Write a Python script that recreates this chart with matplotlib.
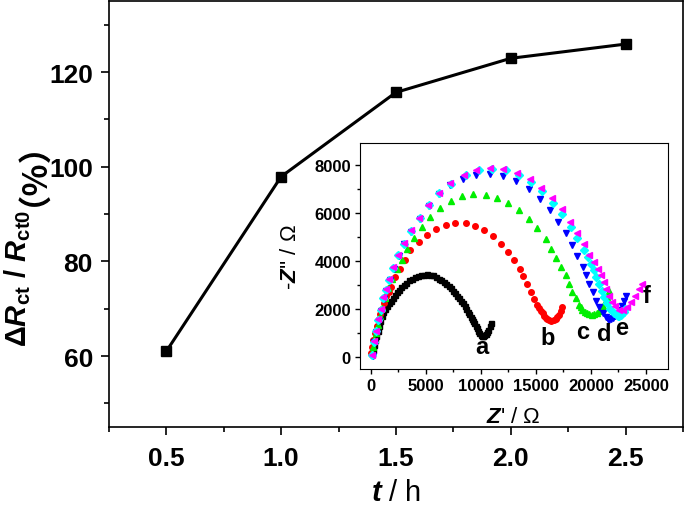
import matplotlib
matplotlib.use('Agg')
import matplotlib.pyplot as plt
from matplotlib.ticker import MultipleLocator

plt.rcParams['font.family'] = ['Liberation Sans', 'Noto Sans CJK SC']
plt.rcParams['font.weight'] = 'bold'
plt.rcParams['mathtext.fontset'] = 'custom'
plt.rcParams['mathtext.rm'] = 'Liberation Sans:bold'
plt.rcParams['mathtext.bf'] = 'Liberation Sans:bold'
plt.rcParams['mathtext.it'] = 'Liberation Sans:italic:bold'
plt.rcParams['mathtext.bfit'] = 'Liberation Sans:italic:bold'

# main curve: relative change of Rct vs time
t_h = [0.5, 1.0, 1.5, 2.0, 2.5]
d_rct = [61.0, 97.9, 115.7, 122.9, 125.9]

# inset: Nyquist plots a-f (Z' , -Z'')
a_x = [60, 150, 260, 380, 480, 605, 720, 848, 970, 1094, 1270, 1459, 1640, 1823, 1990, 2151,
       2350, 2552, 2760, 2972, 3230, 3491, 3760, 4038, 4300, 4558, 4830, 5105, 5380, 5652,
       5910, 6162, 6390, 6618, 6850, 7074, 7280, 7475, 7660, 7840, 8020, 8204, 8360, 8505,
       8660, 8806, 8930, 9052, 9180, 9298, 9400, 9508, 9610, 9717, 9840, 9964, 10090, 10210,
       10320, 10419, 10540, 10665, 10800, 10939]
a_y = [120, 300, 500, 700, 880, 1100, 1300, 1514, 1690, 1861, 2000, 2139, 2245, 2347, 2470, 2597,
       2700, 2806, 2905, 3000, 3090, 3181, 3255, 3319, 3370, 3417, 3428, 3431, 3415, 3389,
       3325, 3250, 3185, 3111, 3030, 2944, 2855, 2764, 2660, 2556, 2450, 2347, 2245, 2139,
       2015, 1889, 1770, 1653, 1585, 1514, 1410, 1306, 1200, 1097, 1000, 917, 875, 861,
       900, 958, 1045, 1139, 1270, 1417]

b_x = [40, 120, 230, 380, 530, 699, 860, 1000, 1200, 1395, 1620, 1850, 2200, 2610, 3127, 3580,
       4340, 5100, 5921, 6802, 7683, 8595, 9446, 10266, 11087, 11786, 12485, 13001, 13518,
       13852, 14217, 14521, 14825, 15129, 15300, 15432, 15600, 15736, 15890, 16040, 16220,
       16404, 16600, 16800, 16950, 17104, 17250, 17408]
b_y = [150, 400, 700, 1000, 1300, 1560, 1800, 2000, 2250, 2528, 2720, 2917, 3330, 3667, 4054, 4429,
       4778, 5083, 5333, 5500, 5583, 5569, 5444, 5264, 5014, 4708, 4361, 4014, 3667,
       3361, 3042, 2722, 2417, 2167, 2040, 1931, 1820, 1722, 1640, 1583, 1525,
       1500, 1520, 1583, 1660, 1750, 1900, 2069]

c_x = [50, 150, 280, 450, 620, 800, 1000, 1250, 1550, 1900, 2370, 2826, 3282, 3883, 4649, 5406,
       6317, 7293, 8320, 9294, 10480, 11482, 12485, 13458, 14369, 15129, 15888, 16344, 16800,
       17256, 17712, 18016, 18320, 18624, 18927, 19080, 19231, 19430, 19626, 19840, 20052,
       20300, 20538, 20720, 20903, 21090, 21268, 21460, 21663]
c_y = [150, 400, 700, 1000, 1350, 1700, 2050, 2450, 2850, 3250, 3639, 4014, 4500, 4951, 5424, 5840,
       6188, 6500, 6695, 6764, 6750, 6611, 6403, 6097, 5750, 5361, 4917, 4500, 4111,
       3736, 3389, 3042, 2722, 2444, 2167, 2060, 1972, 1890, 1833, 1790, 1764,
       1790, 1833, 1910, 2000, 2130, 2278, 2500, 2764]

d_x = [146, 301, 483, 693, 912, 1149, 1395, 1696, 2060, 2516, 3036, 3674, 4430, 5251, 6226, 7229,
       8386, 9571, 10811, 12032, 13218, 14370, 15342, 16254, 17046, 17712, 18320, 18776, 19232,
       19535, 19839, 20146, 20447, 20748, 21058, 21359, 21520, 21660, 21840, 22024, 22220,
       22425, 22600, 22790, 22980, 23182]
d_y = [56, 611, 1028, 1514, 1931, 2417, 2764, 3181, 3667, 4194, 4681, 5208, 5750, 6278, 6764, 7150,
       7389, 7569, 7625, 7528, 7319, 6972, 6583, 6097, 5625, 5139, 4653, 4194, 3736,
       3389, 3042, 2694, 2347, 2069, 1833, 1653, 1590, 1556, 1570, 1611, 1700,
       1833, 1970, 2139, 2320, 2528]

e_x = [120, 280, 460, 670, 890, 1130, 1380, 1680, 2040, 2500, 3020, 3660, 4420, 5240, 6215, 7240,
       8596, 9809, 11030, 12242, 13455, 14585, 15588, 16591, 17411, 18168, 18776, 19380, 19690,
       19990, 20237, 20447, 20693, 20994, 21207, 21449, 21754, 22060, 22250, 22425, 22580,
       22726, 22850, 22972, 23080]
e_y = [80, 640, 1060, 1550, 1970, 2450, 2800, 3220, 3700, 4230, 4710, 5240, 5780, 6310, 6800, 7210,
       7569, 7778, 7833, 7778, 7569, 7278, 6903, 6417, 5931, 5417, 4958, 4430, 4153,
       3875, 3597, 3319, 3042, 2764, 2486, 2236, 2000, 1833, 1770, 1722, 1720,
       1750, 1810, 1889, 2000]

f_x = [100, 260, 440, 650, 870, 1110, 1360, 1660, 2020, 2480, 3000, 3640, 4400, 5220, 6200, 7210,
       8420, 9571, 10811, 12032, 13245, 14458, 15497, 16500, 17347, 18104, 18776, 19380, 19836,
       20292, 20601, 20903, 21149, 21359, 21660, 21906, 22209, 22571, 22936, 23273, 23637,
       24002, 24339, 24640]
f_y = [100, 660, 1080, 1570, 2000, 2480, 2830, 3250, 3730, 4260, 4740, 5270, 5800, 6330, 6820, 7230,
       7560, 7778, 7847, 7833, 7667, 7417, 7042, 6625, 6139, 5611, 5139, 4681, 4222,
       3944, 3667, 3389, 3111, 2833, 2556, 2306, 2111, 1958, 1972, 2069, 2278,
       2556, 2833, 3042]

curve_labels = ['a', 'b', 'c', 'd', 'e', 'f']
label_x = [10050, 16100, 19230, 21200, 22750, 25050]
label_y = [420, 800, 1060, 960, 1240, 2560]

fig = plt.figure(figsize=(6.85, 5.06), dpi=100)
ax = fig.add_axes([0.159, 0.154, 0.838, 0.842])
ax.plot(t_h, d_rct, 'k-s', lw=2.2, ms=6.8)
ax.set_xlim(0.25, 2.75)
ax.set_ylim(45, 135)
ax.xaxis.set_major_locator(MultipleLocator(0.5))
ax.xaxis.set_minor_locator(MultipleLocator(0.25))
ax.yaxis.set_major_locator(MultipleLocator(20))
ax.yaxis.set_minor_locator(MultipleLocator(10))
ax.tick_params(which='major', direction='out', length=5.5, width=1.2, labelsize=19, pad=6)
ax.tick_params(axis='x', which='major', pad=8)
ax.tick_params(which='minor', direction='out', length=3.8, width=1.2)
for s in ax.spines.values():
    s.set_linewidth(1.2)
ax.set_xlabel(r'$\mathbfit{t}$ / h', fontsize=21, labelpad=6)

# y label: math part, then the full-width brackets in a CJK font
ylab = fig.text(0.026, 1 - 347 / 506, r'$\Delta\mathbfit{R}_{\mathbf{ct}}$ / $\mathbfit{R}_{\mathbf{ct0}}$',
                rotation=90, ha='center', va='bottom', fontsize=21)
fig.canvas.draw()
bb = ylab.get_window_extent(fig.canvas.get_renderer())
fig.text(0.024, (bb.y1 + 4) / fig.bbox.height, '（%）', rotation=90, ha='center', va='bottom',
         fontsize=24, family=['Noto Sans CJK SC', 'DejaVu Sans'])

ins = fig.add_axes([0.5255, 0.2688, 0.4496, 0.4466])
ins.plot(a_x, a_y, 's', color='black', ms=3.6, ls='none')
ins.plot(b_x, b_y, 'o', color='red', ms=4.0, ls='none')
ins.plot(c_x, c_y, '^', color='#00ee00', ms=4.4, ls='none')
ins.plot(d_x, d_y, 'v', color='blue', ms=4.4, ls='none')
ins.plot(e_x, e_y, 'D', color='cyan', ms=3.6, ls='none')
ins.plot(f_x, f_y, '<', color='magenta', ms=4.4, ls='none')
for lab, lx, ly in zip(curve_labels, label_x, label_y):
    ins.text(lx, ly, lab, fontsize=17, ha='center', va='center')
ins.set_xlim(-1000, 27000)
ins.set_ylim(-500, 8900)
ins.xaxis.set_major_locator(MultipleLocator(5000))
ins.xaxis.set_minor_locator(MultipleLocator(2500))
ins.yaxis.set_major_locator(MultipleLocator(2000))
ins.yaxis.set_minor_locator(MultipleLocator(1000))
ins.tick_params(which='major', direction='out', length=3.5, width=1, labelsize=12, pad=3)
ins.tick_params(which='minor', direction='out', length=2, width=1)
ins.set_xlabel(r"$\mathbfit{Z}$' / Ω", fontsize=16)
ins.set_ylabel(r"-$\mathbfit{Z}$'' / Ω", fontsize=16)
ins.xaxis.set_label_coords(0.497, -0.165)
ins.yaxis.set_label_coords(-0.19, 0.5)
ins.xaxis.label.set_va('top')

fig.savefig('out.png', dpi=100)
